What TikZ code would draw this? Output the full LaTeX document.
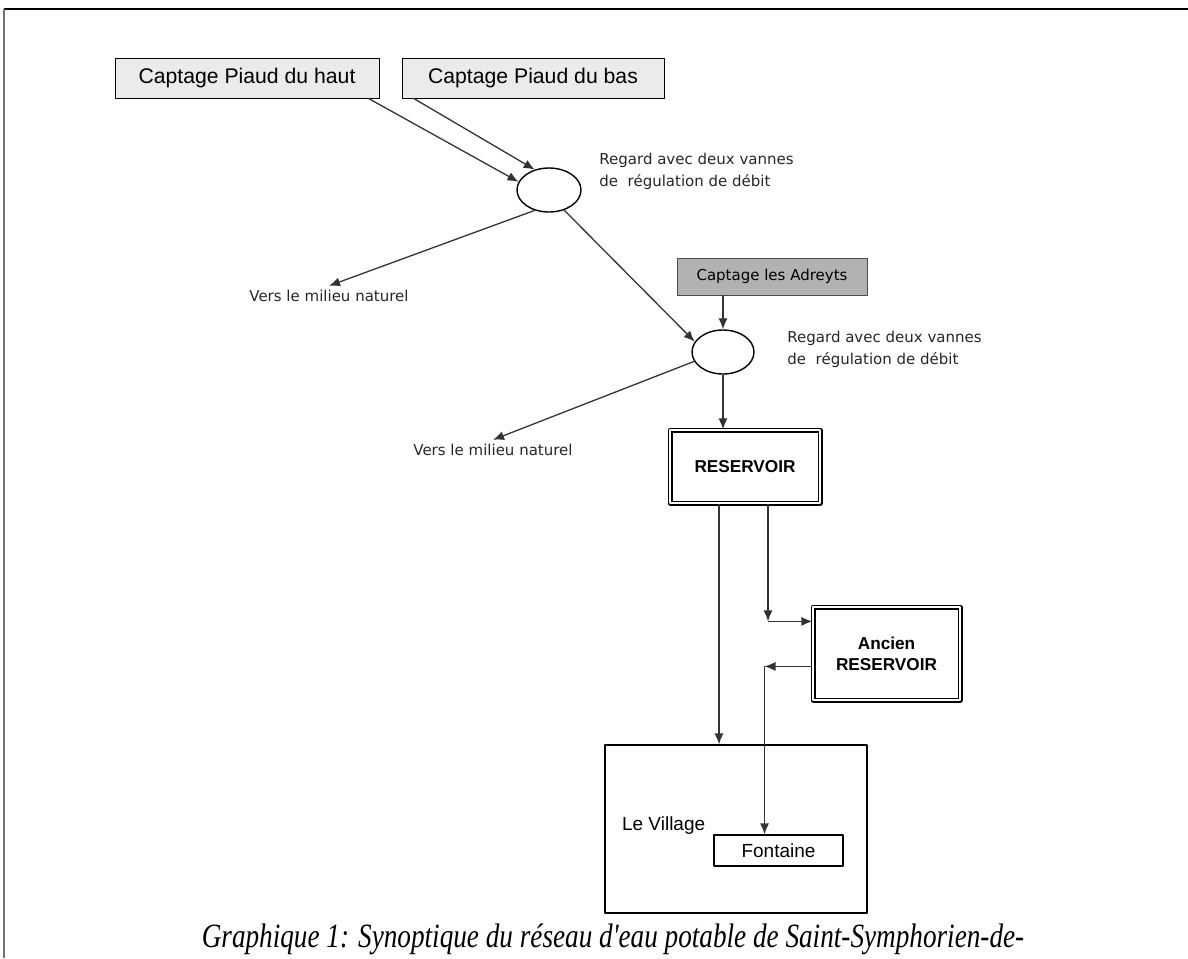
\documentclass[tikz,border=0pt]{standalone}
\usepackage{fontspec}
\setmainfont{Liberation Sans}
\newfontfamily\scanfont{DejaVu Sans}
\newfontfamily\capfont[FakeStretch=0.8]{Liberation Serif}
\usetikzlibrary{shapes.geometric,arrows.meta}
\begin{document}
\begin{tikzpicture}[x=0.5pt, y=-0.5pt, font=\fontsize{10.6}{12}\selectfont, line join=round, >={Latex[length=5.5pt,width=4.5pt]},
  capt/.style={draw, fill=black!8, minimum width=132pt, minimum height=20pt, inner sep=0pt},
  regard/.style={ellipse, draw, line width=0.7pt, minimum width=32pt, minimum height=22pt, inner sep=0pt},
  scan/.style={font=\scanfont\fontsize{7.5}{11}\selectfont, text=black!85, align=left, inner sep=2pt},
  res/.style={draw, double, double distance=1.3pt, line width=0.6pt, align=center, font=\bfseries\fontsize{8.6}{10.5}\selectfont},
  flow/.style={->, line width=0.65pt, black!80}]
\useasboundingbox (0,0) rectangle (1188,958);
\draw[line width=1pt] (4,9) -- (1188,9);
\draw[black!55, line width=0.7pt] (4,9) -- (4,958);
% sources and regards
\node[capt] (haut) at (247,78) {Captage Piaud du haut};
\node[capt, minimum width=131pt] (bas) at (533,78) {Captage Piaud du bas};
\node[regard] (R1) at (549,190) {};
\node[regard, minimum width=31pt] (R2) at (723,352) {};
\node[draw=black!70, fill=black!30, minimum width=95pt, minimum height=18.5pt, font=\scanfont\fontsize{7.5}{9}\selectfont] (adr) at (772,276.5) {Captage les Adreyts};
\node[scan, anchor=west] (t1) at (595,171) {Regard avec deux vannes\\de\ \ régulation de débit};
\node[scan, anchor=west] (t2) at (783,349) {Regard avec deux vannes\\de\ \ régulation de débit};
\node[scan] (v1) at (329,296) {Vers le milieu naturel};
\node[scan] (v2) at (493,450) {Vers le milieu naturel};
% reservoirs and village
\node[res, minimum width=75pt, minimum height=36.5pt] (res) at (745,466.5) {RESERVOIR};
\node[res, minimum width=73.5pt, minimum height=46.5pt] (anc) at (886.5,653.5) {Ancien\\RESERVOIR};
\node[draw, line width=0.6pt, minimum width=131pt, minimum height=84pt] (vil) at (736,829) {};
\node[anchor=west, font=\fontsize{9.5}{11}\selectfont] (lv) at (615,826) {Le Village};
\node[draw, line width=0.6pt, minimum width=64.5pt, minimum height=15.5pt, font=\fontsize{9.5}{11}\selectfont] (fon) at (778.5,850.5) {Fontaine};
\node[anchor=base, font=\capfont\itshape\fontsize{17}{20}\selectfont] (cap) at (613,947) {Graphique 1: Synoptique du réseau d'eau potable de Saint-Symphorien-de-};
\path ([xshift=-5.5pt]haut.south east) coordinate (h1) ([xshift=6pt]bas.south west) coordinate (b1)
  (adr.south -| R2.north) coordinate (d1) (R2.south |- res.north) coordinate (e1)
  ([xshift=-13pt]res.south) coordinate (r1) ([xshift=11.5pt]res.south) coordinate (r2)
  (r1 |- vil.north) coordinate (w1) ([yshift=-7.5pt]anc.north west) coordinate (a1) (r2 |- a1) coordinate (J)
  ([yshift=-30pt]anc.north west) coordinate (a2) ([xshift=-7pt]fon.north) coordinate (f1) (f1 |- a2) coordinate (K);
\foreach \a/\b in {h1/R1.165,b1/R1.125,R1.235/v1.north,R1.307/R2.160,d1/R2.north,R2.198/v2.north,R2.south/e1,r1/w1,r2/J,J/a1,a2/K,K/f1}
  \draw[flow] (\a) -- (\b);
\end{tikzpicture}
\end{document}
